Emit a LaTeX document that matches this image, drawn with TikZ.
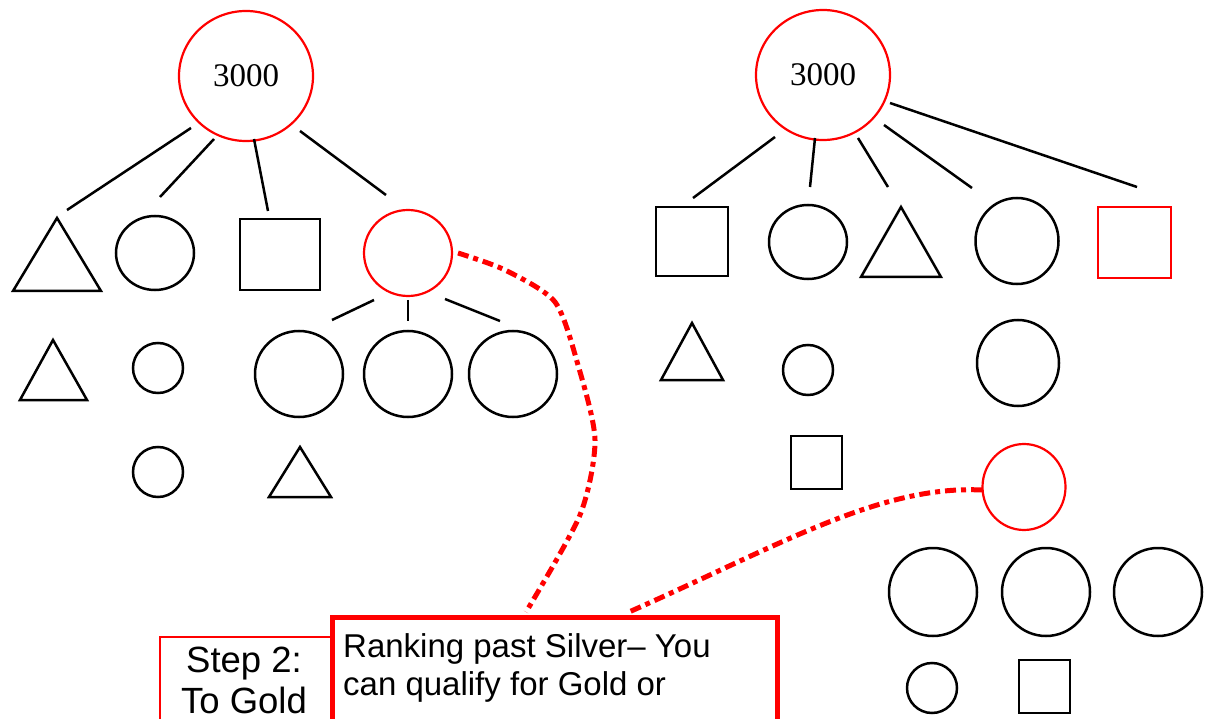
\documentclass[tikz,border=0pt]{standalone}
\usepackage{fontspec}
\setmainfont{Liberation Serif}
\newfontfamily\arialf{Liberation Sans}
\usetikzlibrary{shapes.geometric}
\begin{document}
\begin{tikzpicture}[x=1pt,y=-1pt,
  shp/.style={draw=black,line width=2.5pt,inner sep=0pt},
  ell/.style={shp,ellipse},
  redell/.style={ell,draw=red,line width=2.2pt},
  sq/.style={shp,rectangle},
  conn/.style={draw=black,line width=2.5pt},
  reddash/.style={draw=red,line width=5pt,dash pattern=on 11pt off 5pt on 5pt off 5pt},
  tri/.style={draw=black,line width=2.5pt,line join=miter},
  numtxt/.style={font=\fontsize{33}{33}\selectfont},
  bigtxt/.style={font=\arialf\fontsize{33}{38}\selectfont,anchor=base west,inner sep=0pt},
  steptxtst/.style={font=\arialf\fontsize{36.5}{42}\selectfont,anchor=base,inner sep=0pt}]
\useasboundingbox (0,0) rectangle (1205,719);
% ---------- left tree ----------
\node[redell,minimum width=134pt,minimum height=130pt,numtxt] (lroot) at (246,76) {3000};
\draw[tri] (57,218) -- (101,291) -- (13,291) -- cycle;
\node[ell,minimum width=78pt,minimum height=74pt] (lc2) at (155,253) {};
\node[sq,minimum width=80pt,minimum height=71pt] (lsq) at (280,254.5) {};
\node[redell,minimum width=88pt,minimum height=86pt] (lred) at (408,253) {};
\coordinate (a1) at (191,128); \coordinate (b1) at (67,210);
\coordinate (a2) at (214,139); \coordinate (b2) at (160,197);
\coordinate (a3) at (254,139); \coordinate (b3) at (268,211);
\coordinate (a4) at (300,131); \coordinate (b4) at (386,195);
\draw[conn] (a1) -- (b1); \draw[conn] (a2) -- (b2);
\draw[conn] (a3) -- (b3); \draw[conn] (a4) -- (b4);
\coordinate (c1) at (374,300); \coordinate (d1) at (332,320);
\coordinate (c2) at (408,300); \coordinate (d2) at (408,321);
\coordinate (c3) at (445,299); \coordinate (d3) at (500,321);
\draw[conn] (c1) -- (d1); \draw[conn] (c2) -- (d2); \draw[conn] (c3) -- (d3);
\draw[tri] (53,340) -- (87,400) -- (20,400) -- cycle;
\node[ell,minimum size=50pt] (ls1) at (158,368) {};
\node[ell,minimum width=88pt,minimum height=86pt] (lb1) at (299,374) {};
\node[ell,minimum width=88pt,minimum height=86pt] (lb2) at (408,374) {};
\node[ell,minimum width=88pt,minimum height=86pt] (lb3) at (513,374) {};
\node[ell,minimum size=50pt] (ls2) at (158,472) {};
\draw[tri] (300,447) -- (331,497) -- (269,497) -- cycle;
% ---------- right tree ----------
\node[redell,minimum width=134pt,minimum height=130pt,numtxt] (rroot) at (823,75) {3000};
\node[sq,minimum width=72pt,minimum height=69pt] (rsq) at (692,241.5) {};
\node[ell,minimum width=78pt,minimum height=74pt] (rc1) at (808,242) {};
\draw[tri] (901,207) -- (941,277) -- (861,277) -- cycle;
\node[ell,minimum width=83pt,minimum height=86pt] (rc2) at (1017,241) {};
\node[sq,draw=red,line width=2.2pt,minimum width=73pt,minimum height=71pt] (rrsq) at (1134.5,242.5) {};
\coordinate (e1) at (775,137); \coordinate (f1) at (693,198);
\coordinate (e2) at (815,138); \coordinate (f2) at (810,187);
\coordinate (e3) at (858,138); \coordinate (f3) at (888,187);
\coordinate (e4) at (884,125); \coordinate (f4) at (972,188);
\coordinate (e5) at (890,103); \coordinate (f5) at (1137,187);
\draw[conn] (e1) -- (f1); \draw[conn] (e2) -- (f2); \draw[conn] (e3) -- (f3);
\draw[conn] (e4) -- (f4); \draw[conn] (e5) -- (f5);
\draw[tri] (692,323) -- (723,380) -- (661,380) -- cycle;
\node[ell,minimum size=50pt] (rs1) at (808,370) {};
\node[ell,minimum width=82pt,minimum height=86pt] (rc3) at (1018,363) {};
\node[sq,minimum width=51pt,minimum height=53pt] (rsq2) at (816.5,462.5) {};
\node[redell,minimum width=83pt,minimum height=86pt] (rred) at (1024,487) {};
\node[ell,minimum width=88pt,minimum height=88pt] (rb1) at (933,592) {};
\node[ell,minimum width=88pt,minimum height=88pt] (rb2) at (1046,592) {};
\node[ell,minimum width=88pt,minimum height=88pt] (rb3) at (1158,592) {};
\node[ell,minimum size=50pt] (rs2) at (932,688) {};
\node[sq,minimum width=51pt,minimum height=53pt] (rsq3) at (1044.5,686.5) {};
% ---------- callout boxes ----------
\node[draw=red,line width=2pt,minimum width=180pt,minimum height=110pt,anchor=north west,inner sep=0pt] (step) at (159,636) {};
\node[steptxtst] (step1) at (244,672) {Step 2:};
\node[steptxtst] (step2) at (244,713) {To Gold};
\node[draw=red,fill=white,line width=5pt,minimum width=445pt,minimum height=150pt,anchor=north west,inner sep=0pt] (rank) at (330,615) {};
\node[bigtxt] (rank1) at (343,657) {Ranking past Silver\textendash{} You};
\node[bigtxt] (rank2) at (343,695) {can qualify for Gold or};
% ---------- dashed links ----------
\coordinate (p1) at (458,253);
\coordinate (p5) at (526,612);
\draw[reddash] plot[smooth,tension=0.45] coordinates {(p1) (505,270) (555,302) (578,365) (595,440) (580,515) (p5)};
\coordinate (q1) at (982,490);
\coordinate (q2) at (629,612);
\draw[reddash] (q1) .. controls (880,485) and (780,545) .. (q2);
\end{tikzpicture}
\end{document}
